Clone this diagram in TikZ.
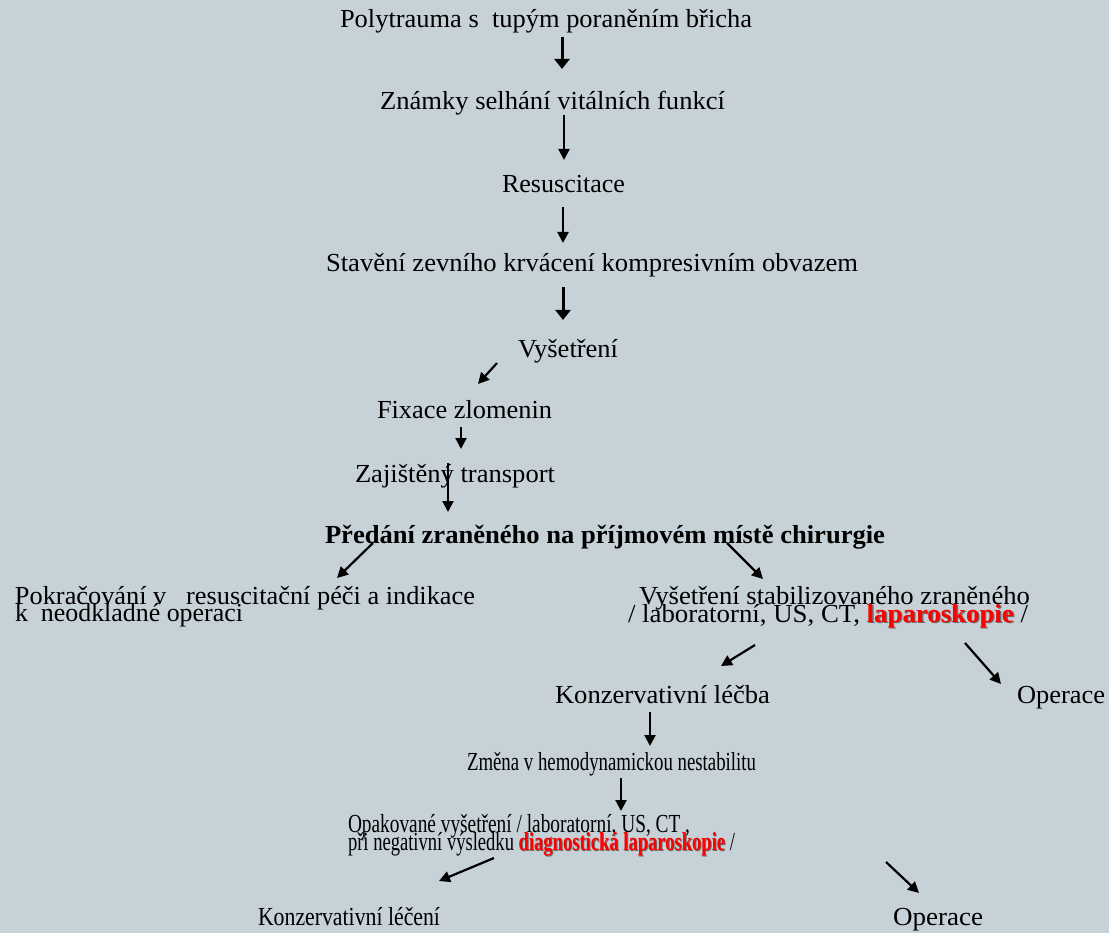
\documentclass[tikz,border=0pt]{standalone}
\usepackage{fontspec}
\setmainfont{Liberation Serif}
\usepackage{graphicx}
\usetikzlibrary{arrows.meta}
\definecolor{bgc}{RGB}{198,209,216}
\definecolor{shd}{RGB}{110,110,110}
\newcommand{\tw}[2]{\resizebox{#1pt}{\height}{#2}}
\newcommand{\redsh}[1]{\makebox[0pt][l]{\hspace{1.3pt}\raisebox{-1.3pt}{\textcolor{shd}{#1}}}\textcolor{red}{#1}}
\tikzset{
  txt/.style={anchor=base west, inner sep=0pt, outer sep=0pt, font=\fontsize{26}{30}\selectfont},
  arr/.style={-{Triangle[length=11pt,width=11pt]}, line width=2.2pt, black},
  arrb/.style={-{Triangle[length=10pt,width=15pt]}, line width=3pt, black},
}
\begin{document}
\begin{tikzpicture}[x=1pt,y=-1pt]
\fill[bgc] (0,0) rectangle (1109,933);
\useasboundingbox (0,0) rectangle (1109,933);

% texts
\node[txt] (n1) at (340,28) {\tw{412}{Polytrauma s\ \ tupým poraněním břicha}};
\node[txt] (n2) at (380,110) {\tw{345}{Známky selhání vitálních funkcí}};
\node[txt] (n3) at (502,193) {\tw{123}{Resuscitace}};
\node[txt] (n4) at (326,272) {\tw{532}{Stavění zevního krvácení kompresivním obvazem}};
\node[txt] (n5) at (518,357) {\tw{100}{Vyšetření}};
\node[txt] (n6) at (377,418) {\tw{175}{Fixace zlomenin}};
\node[txt] (n7) at (355,482) {\tw{200}{Zajištěný transport}};
\node[txt] (n8) at (325,543) {\tw{560}{\bfseries Předání zraněného na příjmovém místě chirurgie}};
\node[txt] (n9a) at (15,604) {\tw{460}{Pokračování v\ \ \ resuscitační péči a indikace}};
\node[txt] (n9b) at (15,621) {\tw{228}{k\ \ neodkladné operaci}};
\node[txt] (n10a) at (639,604) {\tw{391}{Vyšetření stabilizovaného zraněného}};
\node[txt] (n10b) at (628,622) {\tw{400}{/ laboratorní, US, CT, \redsh{\bfseries laparoskopie} /}};
\node[txt] (n11) at (555,703) {\tw{215}{Konzervativní léčba}};
\node[txt] (n12) at (1017,703) {\tw{88}{Operace}};
\node[txt] (n13) at (467,770) {\tw{289}{Změna v hemodynamickou nestabilitu}};
\node[txt] (n14a) at (348,832) {\tw{342}{Opakované vyšetření / laboratorní, US, CT ,}};
\node[txt] (n14b) at (348,850) {\tw{387}{při negativní výsledku \redsh{\bfseries diagnostická laparoskopie} /}};
\node[txt] (n15) at (258,925) {\tw{182}{Konzervativní léčení}};
\node[txt] (n16) at (893,925) {\tw{90}{Operace}};

% arrow end points
\coordinate (a1s) at (562,37);  \coordinate (a1e) at (562,69);
\coordinate (a2s) at (564,115); \coordinate (a2e) at (564,160);
\coordinate (a3s) at (563,207); \coordinate (a3e) at (563,243);
\coordinate (a4s) at (563,287); \coordinate (a4e) at (563,320);
\coordinate (a5s) at (497,363); \coordinate (a5e) at (478,384);
\coordinate (a6s) at (461,427); \coordinate (a6e) at (461,449);
\coordinate (a7s) at (448,463); \coordinate (a7e) at (448,512);
\coordinate (a8s) at (373,543); \coordinate (a8e) at (337,578);
\coordinate (a9s) at (727,543); \coordinate (a9e) at (763,579);
\coordinate (a10s) at (755,645); \coordinate (a10e) at (721,666);
\coordinate (a11s) at (965,643); \coordinate (a11e) at (1001,684);
\coordinate (a12s) at (650,712); \coordinate (a12e) at (650,746);
\coordinate (a13s) at (621,778); \coordinate (a13e) at (621,811);
\coordinate (a14s) at (494,858); \coordinate (a14e) at (439,881);
\coordinate (a15s) at (886,862); \coordinate (a15e) at (919,893);

\draw[arrb] (a1s) -- (a1e);
\draw[arr] (a2s) -- (a2e);
\draw[arr] (a3s) -- (a3e);
\draw[arrb] (a4s) -- (a4e);
\draw[arr] (a5s) -- (a5e);
\draw[arr] (a6s) -- (a6e);
\draw[arr] (a7s) -- (a7e);
\draw[arr] (a8s) -- (a8e);
\draw[arr] (a9s) -- (a9e);
\draw[arr] (a10s) -- (a10e);
\draw[arr] (a11s) -- (a11e);
\draw[arr] (a12s) -- (a12e);
\draw[arr] (a13s) -- (a13e);
\draw[arr] (a14s) -- (a14e);
\draw[arr] (a15s) -- (a15e);
\end{tikzpicture}
\end{document}
